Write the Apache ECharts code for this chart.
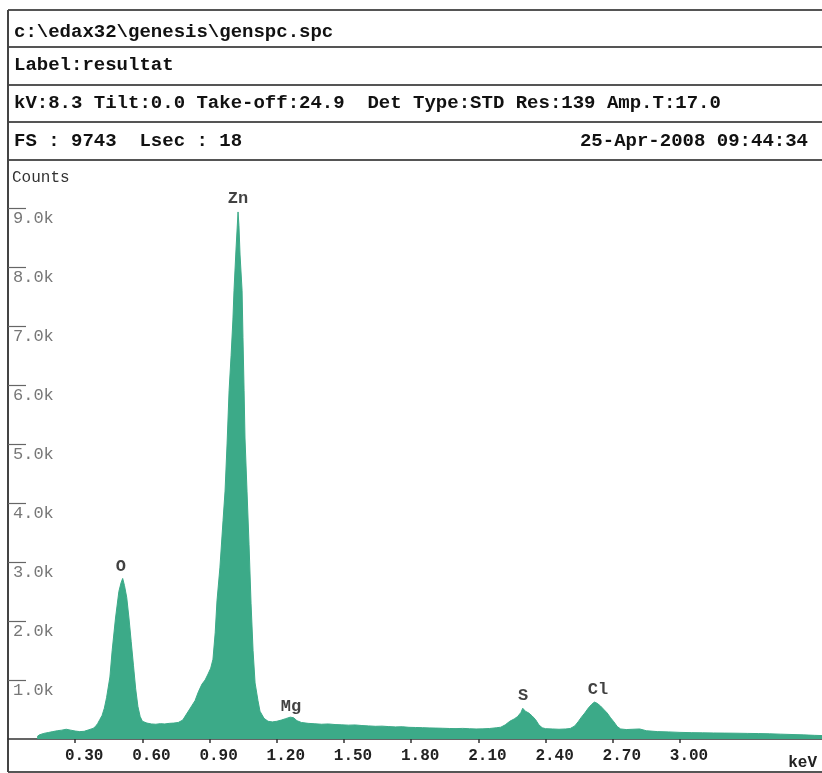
<!DOCTYPE html>
<html><head><meta charset="utf-8">
<script src="https://cdn.jsdelivr.net/npm/echarts@6/dist/echarts.min.js"></script>
<style>html,body{margin:0;padding:0;background:#fff}#c{width:822px;height:773px}</style>
</head><body><div id="c"></div>
<script>
// ---- header texts ----
const headerLines = [
  'c:\\edax32\\genesis\\genspc.spc',
  'Label:resultat',
  'kV:8.3 Tilt:0.0 Take-off:24.9  Det Type:STD Res:139 Amp.T:17.0',
  'FS : 9743  Lsec : 18'
];
const dateText = '25-Apr-2008 09:44:34';
const yAxisName = 'Counts';
const xAxisName = 'keV';

// ---- spectrum (keV, counts) ----
const energyKeV = [
  0.13,0.14,0.16,0.18,0.20,0.22,0.24,0.26,0.28,0.30,0.32,0.34,0.36,0.38,0.39,0.40,0.41,0.42,0.43,0.44,
  0.455,0.465,0.48,0.495,0.505,0.512,0.52,0.53,0.54,0.55,0.56,0.57,0.58,0.59,0.60,0.62,0.64,0.66,0.68,0.70,
  0.72,0.74,0.76,0.78,0.80,0.82,0.835,0.85,0.866,0.88,0.893,0.905,0.915,0.925,0.933,0.946,0.96,0.969,0.978,0.987,
  0.996,1.004,1.009,1.018,1.027,1.031,1.036,1.045,1.049,1.054,1.058,1.067,1.076,1.085,1.094,1.103,1.116,1.125,1.143,1.161,
  1.18,1.20,1.22,1.24,1.26,1.275,1.29,1.31,1.34,1.37,1.40,1.43,1.46,1.49,1.52,1.55,1.58,1.61,1.64,1.67,
  1.70,1.73,1.76,1.79,1.82,1.85,1.88,1.91,1.94,1.97,2.00,2.03,2.06,2.09,2.12,2.15,2.18,2.20,2.22,2.24,
  2.26,2.275,2.29,2.298,2.31,2.325,2.34,2.355,2.37,2.385,2.40,2.43,2.46,2.49,2.51,2.53,2.545,2.56,2.575,2.59,2.605,
  2.618,2.63,2.645,2.66,2.675,2.69,2.705,2.72,2.735,2.76,2.79,2.82,2.85,2.90,2.95,3.00,3.05,3.10,3.15,3.20,
  3.25,3.30,3.35,3.40,3.45,3.50,3.55,3.60,3.634
];
const counts = [
  40,70,95,110,125,140,150,165,150,135,125,130,155,180,210,260,330,400,520,700,
  1050,1500,2050,2500,2650,2720,2600,2400,2050,1650,1250,850,550,380,300,270,255,250,260,255,
  265,270,280,320,440,560,650,800,930,1000,1100,1200,1350,1800,2340,2900,3700,4200,5000,5900,
  6500,7100,7600,8300,8930,8700,8200,7600,6800,5900,5100,4200,3300,2300,1500,950,650,470,350,300,
  290,300,320,345,370,360,310,280,265,258,250,255,245,240,235,238,228,222,215,218,
  210,205,208,198,195,192,188,185,182,178,176,180,174,170,172,178,190,200,240,300,
  340,380,450,520,470,440,390,330,240,190,175,170,165,170,178,220,290,370,440,520,585,
  625,605,560,500,440,360,290,210,170,160,165,170,140,125,120,112,108,105,102,100,
  98,95,92,88,82,76,70,62,58
];

// ---- axes ticks ----
const xTickValues = [0.30,0.60,0.90,1.20,1.50,1.80,2.10,2.40,2.70,3.00];
const xTickLabels = ['0.30','0.60','0.90','1.20','1.50','1.80','2.10','2.40','2.70','3.00'];
const yTickValues = [1000,2000,3000,4000,5000,6000,7000,8000,9000];
const yTickLabels = ['1.0k','2.0k','3.0k','4.0k','5.0k','6.0k','7.0k','8.0k','9.0k'];

// ---- peak labels ----
const peakNames = ['O','Zn','Mg','S','Cl'];
const peakKeV = [0.504,1.027,1.263,2.300,2.634];
const peakLabelCounts = [2920,9150,540,730,830];

const FILL = '#3caa88';
const MONO = '"Liberation Mono","DejaVu Sans Mono",monospace';

const chart = echarts.init(document.getElementById('c'), null, {renderer:'canvas'});

const frameColor = '#555';
const rowLines = [10,47,85,122,160,772];
const rowTextY = [32,65,103,141];
const graphics = [];
rowLines.forEach(y => graphics.push({type:'line', shape:{x1:8,y1:y,x2:822,y2:y}, style:{stroke:frameColor,lineWidth:2}, silent:true}));
graphics.push({type:'line', shape:{x1:8,y1:10,x2:8,y2:772}, style:{stroke:'#444',lineWidth:2}, silent:true});
headerLines.forEach((t,i) => graphics.push({type:'text', x:14, y:rowTextY[i], style:{text:t, font:'bold 19px '+MONO, fill:'#111', textVerticalAlign:'middle'}}));
graphics.push({type:'text', x:808, y:rowTextY[3], style:{text:dateText, font:'bold 19px '+MONO, fill:'#111', textAlign:'right', textVerticalAlign:'middle'}});
graphics.push({type:'text', x:12, y:178, style:{text:yAxisName, font:'16px '+MONO, fill:'#333', textVerticalAlign:'middle'}});
graphics.push({type:'text', x:817, y:763, style:{text:xAxisName, font:'bold 16px '+MONO, fill:'#222', textAlign:'right', textVerticalAlign:'middle'}});

const option = {
  animation:false,
  backgroundColor:'#fff',
  grid:{left:8, right:0, top:160, bottom:34},
  xAxis:{
    type:'value', min:0, max:3.634,
    splitLine:{show:false},
    axisLine:{show:true, lineStyle:{color:'#333', width:1.5}},
    axisTick:{show:true, customValues:xTickValues, length:4, lineStyle:{color:'#333', width:1.5}},
    axisLabel:{show:true, customValues:xTickValues, margin:9, padding:[0,0,0,18],
      formatter:(v)=>{const i=xTickValues.findIndex(t=>Math.abs(t-v)<1e-6);return i>=0?xTickLabels[i]:'';},
      color:'#222', fontFamily:MONO, fontSize:16, fontWeight:'bold'}
  },
  yAxis:{
    type:'value', min:0, max:9810,
    splitLine:{show:false},
    axisLine:{show:false},
    axisTick:{show:true, inside:true, customValues:yTickValues, length:18, lineStyle:{color:'#666', width:1.2}},
    axisLabel:{show:true, inside:true, customValues:yTickValues, margin:5, verticalAlign:'top', padding:[2,0,0,0],
      formatter:(v)=>{const i=yTickValues.indexOf(v);return i>=0?yTickLabels[i]:'';},
      color:'#777', fontFamily:MONO, fontSize:17}
  },
  series:[
    {
      type:'line', data:energyKeV.map((e,i)=>[e,counts[i]]),
      showSymbol:false, symbol:'none',
      lineStyle:{color:FILL, width:1},
      areaStyle:{color:FILL, opacity:1},
      z:2
    },
    {
      type:'scatter', data:peakKeV.map((e,i)=>[e,peakLabelCounts[i]]),
      symbolSize:2, itemStyle:{color:'rgba(0,0,0,0)'},
      label:{show:true, position:'inside', formatter:(p)=>peakNames[p.dataIndex],
        color:'#111', fontFamily:MONO, fontSize:17, fontWeight:'bold'},
      z:3
    }
  ],
  graphic:graphics
};
chart.setOption(option);
</script>
</body></html>
